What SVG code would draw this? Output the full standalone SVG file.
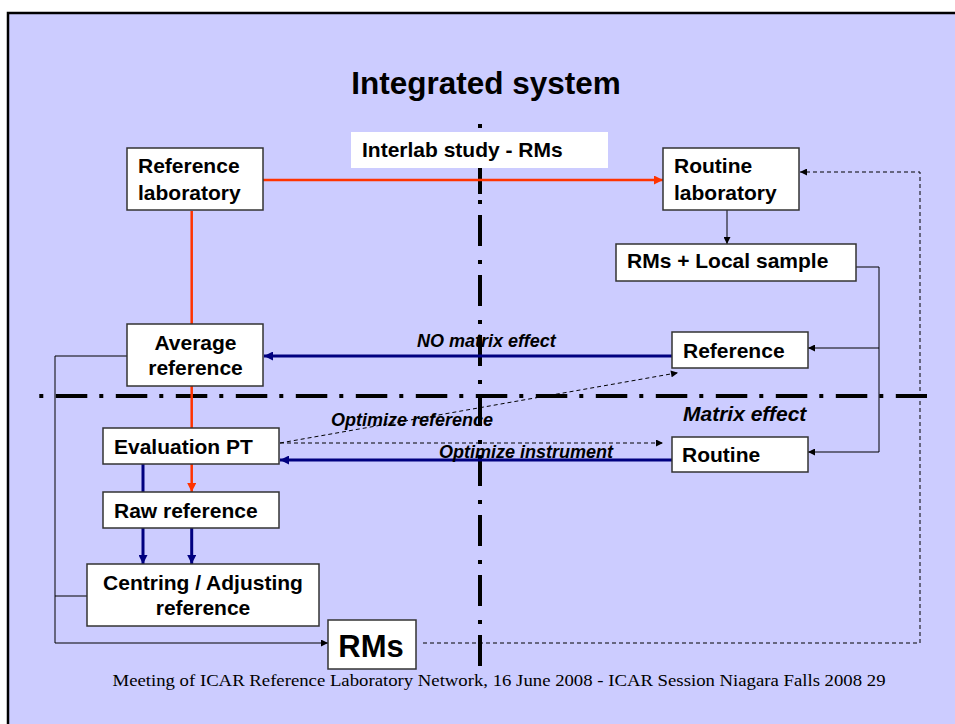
<svg xmlns="http://www.w3.org/2000/svg" width="955" height="724" viewBox="0 0 955 724">
<style>
.box{fill:#fff;stroke:#333;stroke-width:1.5}
.t{font-family:"Liberation Sans",Arial,sans-serif;font-weight:bold;font-size:21px;fill:#000}
.it{font-family:"Liberation Sans",Arial,sans-serif;font-weight:bold;font-style:italic;font-size:18px;fill:#000}
.red{stroke:#FF3300;stroke-width:2.5;fill:none}
.navy{stroke:#000080;stroke-width:3;fill:none}
.thin{stroke:#000;stroke-width:1;fill:none}
.dash{stroke:#000;stroke-width:1;fill:none;stroke-dasharray:4 3}
.dd{stroke:#000;stroke-width:4;fill:none}
</style>
<defs>
<marker id="aRed" viewBox="0 0 10 10" refX="10" refY="5" markerUnits="userSpaceOnUse" markerWidth="10" markerHeight="9" orient="auto"><path d="M0,0 L10,5 L0,10 z" fill="#FF3300"/></marker>
<marker id="aNavy" viewBox="0 0 10 10" refX="10" refY="5" markerUnits="userSpaceOnUse" markerWidth="9" markerHeight="9" orient="auto"><path d="M0,0 L10,5 L0,10 z" fill="#000080"/></marker>
<marker id="aBlk" viewBox="0 0 10 10" refX="10" refY="5" markerUnits="userSpaceOnUse" markerWidth="8" markerHeight="7" orient="auto"><path d="M0,0 L10,5 L0,10 z" fill="#000"/></marker>
</defs>
<rect x="0" y="0" width="955" height="724" fill="#fff"/>
<rect x="8" y="13" width="1000" height="800" fill="#CCCCFF" stroke="#000" stroke-width="2.5"/>
<text x="486" y="94" text-anchor="middle" font-family="Liberation Sans, Arial, sans-serif" font-weight="bold" font-size="31.5">Integrated system</text>
<g id="axes">
<path class="dd" d="M39.3,396 H927" stroke-dasharray="4 12.5 31.5 12"/>
<path class="dd" d="M480,124 V128 M480,141 V194"/>
<path class="dd" d="M480,200 V667" stroke-dasharray="4 11 31 14"/>
</g>
<g id="connectors">
<path class="red" d="M263,180 H663" marker-end="url(#aRed)"/>
<path class="red" d="M191.7,211 V324 M191.7,386 V428"/>
<path class="red" d="M191.7,464 V492" marker-end="url(#aRed)"/>
<path class="navy" d="M672,356 H264" marker-end="url(#aNavy)"/>
<path class="navy" d="M672,460 H280" marker-end="url(#aNavy)"/>
<path class="navy" d="M143,464 V564" marker-end="url(#aNavy)"/>
<path class="navy" d="M191.7,528 V564" marker-end="url(#aNavy)"/>
<path class="thin" d="M727,210 V244" marker-end="url(#aBlk)"/>
<path class="thin" d="M856,267 H879 V452 H808" marker-end="url(#aBlk)"/>
<path class="thin" d="M879,348 H808" marker-end="url(#aBlk)"/>
<path class="thin" d="M127,356 H55 V643 H328" marker-end="url(#aBlk)"/>
<path class="thin" d="M55,596 H87"/>
<path class="dash" d="M423,643 H920 V172 H800" stroke-dasharray="5 3" marker-end="url(#aBlk)"/>
<path class="dash" d="M280,443 H663" marker-end="url(#aBlk)"/>
<path class="dash" d="M280,443 L678,372.7" marker-end="url(#aBlk)"/>
</g>
<g id="ref_lab"><rect class="box" x="127" y="148" width="136" height="62"/><text class="t" x="138" y="173">Reference</text><text class="t" x="138" y="200">laboratory</text></g>
<g id="interlab"><rect x="351" y="132" width="257" height="36" fill="#fff"/><text class="t" x="362" y="157">Interlab study - RMs</text></g>
<g id="routine_lab"><rect class="box" x="663" y="148" width="136" height="62"/><text class="t" x="674" y="173">Routine</text><text class="t" x="674" y="200">laboratory</text></g>
<g id="rms_local"><rect class="box" x="616" y="244" width="240" height="37"/><text class="t" x="627" y="268">RMs + Local sample</text></g>
<g id="avg_ref"><rect class="box" x="127" y="324" width="136" height="62"/><text class="t" x="195.5" y="350" text-anchor="middle">Average</text><text class="t" x="195.5" y="375" text-anchor="middle">reference</text></g>
<g id="reference"><rect class="box" x="672" y="332" width="136" height="36"/><text class="t" x="683" y="358">Reference</text></g>
<g id="eval_pt"><rect class="box" x="103" y="428" width="176" height="36"/><text class="t" x="114" y="454">Evaluation PT</text></g>
<g id="routine"><rect class="box" x="672" y="437" width="136" height="35"/><text class="t" x="682" y="462">Routine</text></g>
<g id="raw_ref"><rect class="box" x="103" y="492" width="176" height="36"/><text class="t" x="114" y="518">Raw reference</text></g>
<g id="centring"><rect class="box" x="87" y="564" width="232" height="62"/><text class="t" x="203" y="590" text-anchor="middle">Centring / Adjusting</text><text class="t" x="203" y="615" text-anchor="middle">reference</text></g>
<g id="rms"><rect class="box" x="328" y="620" width="88" height="49"/><text class="t" x="371" y="657" text-anchor="middle" style="font-size:31px">RMs</text></g>
<g id="labels">
<text class="it" x="417" y="347">NO matrix effect</text>
<text class="it" x="683" y="421" style="font-size:21px">Matrix effect</text>
<text class="it" x="331" y="426">Optimize reference</text>
<text class="it" x="439" y="458">Optimize instrument</text>
</g>
<text x="499" y="686" text-anchor="middle" font-family="Liberation Serif, Times New Roman, serif" font-size="16" textLength="773" lengthAdjust="spacingAndGlyphs">Meeting of ICAR Reference Laboratory Network, 16 June 2008 - ICAR Session Niagara Falls 2008 29</text>
</svg>
